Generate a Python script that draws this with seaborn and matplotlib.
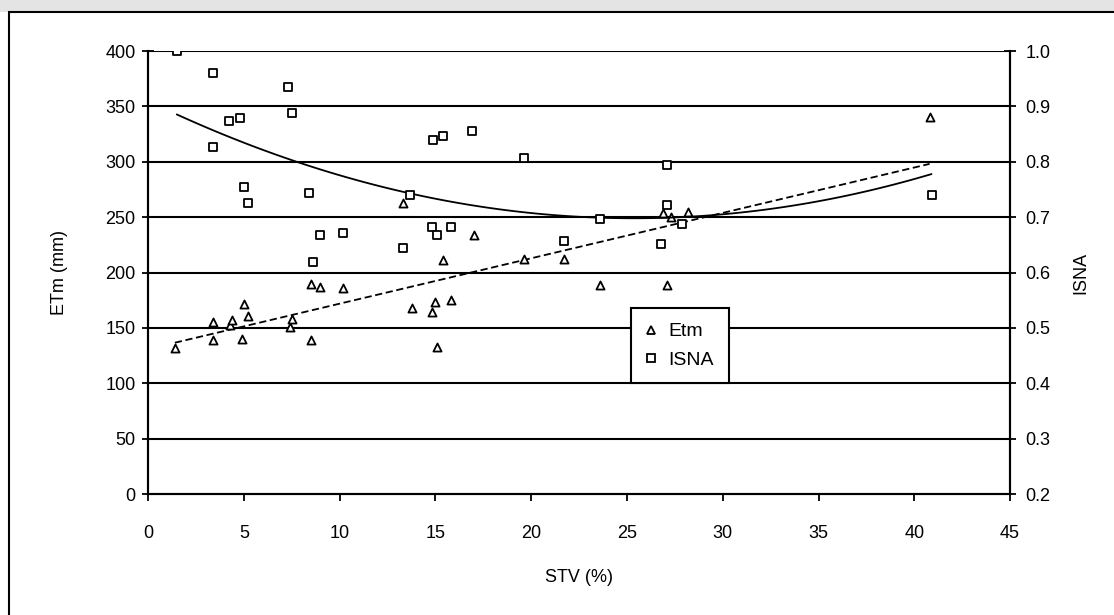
import numpy as np
import matplotlib
matplotlib.use('Agg')
import matplotlib.pyplot as plt
from matplotlib.patches import Rectangle
from matplotlib.lines import Line2D
import seaborn as sns

# Etm (mm) against STV (%)
etm_x = [1.4, 3.4, 3.4, 4.3, 4.4, 4.9, 5.0, 5.2, 7.4, 7.5, 8.5, 9.0, 8.5, 10.2,
         13.3, 13.8, 14.8, 15.0, 15.1, 15.4, 15.8, 17.0, 19.6, 21.7, 23.6,
         26.9, 27.1, 27.3, 28.2, 40.8]
etm_y = [132, 155, 139, 153, 157, 140, 172, 161, 151, 158, 190, 187, 139, 186,
         263, 168, 164, 173, 133, 211, 175, 234, 212, 212, 189,
         254, 189, 250, 255, 340]

# ISNA against STV (%)
isna_x = [1.5, 3.4, 3.4, 4.2, 4.8, 5.0, 5.2, 7.3, 7.5, 8.4, 8.6, 9.0, 10.2,
          13.3, 13.7, 14.8, 14.9, 15.1, 15.4, 15.8, 16.9, 19.6, 21.7, 23.6,
          26.8, 27.1, 27.1, 27.9, 40.9]
isna_y = [1.0, 0.960, 0.827, 0.874, 0.879, 0.754, 0.725, 0.935, 0.888, 0.743,
          0.619, 0.668, 0.671, 0.644, 0.740, 0.682, 0.839, 0.668, 0.847, 0.682,
          0.855, 0.806, 0.657, 0.697, 0.651, 0.794, 0.722, 0.688, 0.740]

x_ticks = list(range(0, 50, 5))
etm_ticks = list(range(0, 450, 50))
isna_ticks = [0.2, 0.3, 0.4, 0.5, 0.6, 0.7, 0.8, 0.9, 1.0]

sns.set_theme(style='white')
plt.rcParams['font.family'] = ['Liberation Sans', 'DejaVu Sans']
plt.rcParams['text.color'] = 'black'
plt.rcParams['axes.labelcolor'] = 'black'
plt.rcParams['xtick.color'] = 'black'
plt.rcParams['ytick.color'] = 'black'

fig = plt.figure(figsize=(11.14, 6.15), dpi=100)

# grey band and outer frame like the original export
fig.patches.append(Rectangle((0, 0.981), 1, 0.019, transform=fig.transFigure,
                             facecolor='#e4e4e4', edgecolor='none', zorder=0))
fig.patches.append(Rectangle((0.008, -0.05), 1.1, 1.031, transform=fig.transFigure,
                             facecolor='none', edgecolor='black', linewidth=1.5, zorder=1))

ax = fig.add_axes([0.1329, 0.1967, 0.7738, 0.7203])
ax2 = ax.twinx()

sns.scatterplot(x=etm_x, y=etm_y, ax=ax, marker='^', s=34, facecolor='white',
                edgecolor='black', linewidth=1.3, zorder=3)
sns.scatterplot(x=isna_x, y=isna_y, ax=ax2, marker='s', s=34, facecolor='white',
                edgecolor='black', linewidth=1.3, zorder=3)

# trend lines: linear for Etm, 2nd order for ISNA
xe = np.linspace(min(etm_x), max(etm_x), 100)
ax.plot(xe, np.polyval(np.polyfit(etm_x, etm_y, 1), xe), color='black',
        linestyle=(0, (4, 2)), linewidth=1.3, zorder=2)
xi = np.linspace(min(isna_x), max(isna_x), 100)
ax2.plot(xi, np.polyval(np.polyfit(isna_x, isna_y, 2), xi), color='black',
         linewidth=1.3, zorder=2)

ax.set_xlim(0, 45)
ax.set_ylim(0, 400)
ax2.set_ylim(0.2, 1.0)
ax.set_xticks(x_ticks)
ax.set_yticks(etm_ticks)
ax2.set_yticks(isna_ticks)
ax2.set_yticklabels([f'{v:.1f}' for v in isna_ticks])

for v in etm_ticks[1:]:
    ax.axhline(v, color='black', linewidth=1.5, zorder=1)

for a in (ax, ax2):
    for side in ('left', 'right', 'bottom'):
        a.spines[side].set_color('black')
        a.spines[side].set_linewidth(1.5)
    a.spines['top'].set_visible(False)

ax.tick_params(axis='y', direction='inout', length=8, width=1.3,
               labelsize=13, pad=5)
ax.tick_params(axis='x', direction='out', length=5, width=1.3,
               labelsize=13, pad=17, bottom=True)
ax2.tick_params(axis='y', direction='inout', length=8, width=1.3,
                labelsize=13, pad=7, right=True)

ax.set_xlabel('STV (%)', fontsize=13, labelpad=20)
ax.set_ylabel('ETm (mm)', fontsize=13, labelpad=27)
ax2.set_ylabel('ISNA', fontsize=13, labelpad=16)

handles = [Line2D([], [], marker='^', linestyle='none', markerfacecolor='white',
                  markeredgecolor='black', markersize=5.5, markeredgewidth=1.3),
           Line2D([], [], marker='s', linestyle='none', markerfacecolor='white',
                  markeredgecolor='black', markersize=5.5, markeredgewidth=1.3)]
leg = ax2.legend(handles, ['Etm', 'ISNA'], loc='lower left',
                 bbox_to_anchor=(0.56, 0.25), fontsize=14, frameon=True,
                 fancybox=False, handlelength=0.6, handletextpad=0.6,
                 borderpad=0.75, labelspacing=0.55, borderaxespad=0)
leg.get_frame().set_edgecolor('black')
leg.get_frame().set_linewidth(1.5)
leg.get_frame().set_alpha(1)

plt.savefig('out.png', dpi=100)
